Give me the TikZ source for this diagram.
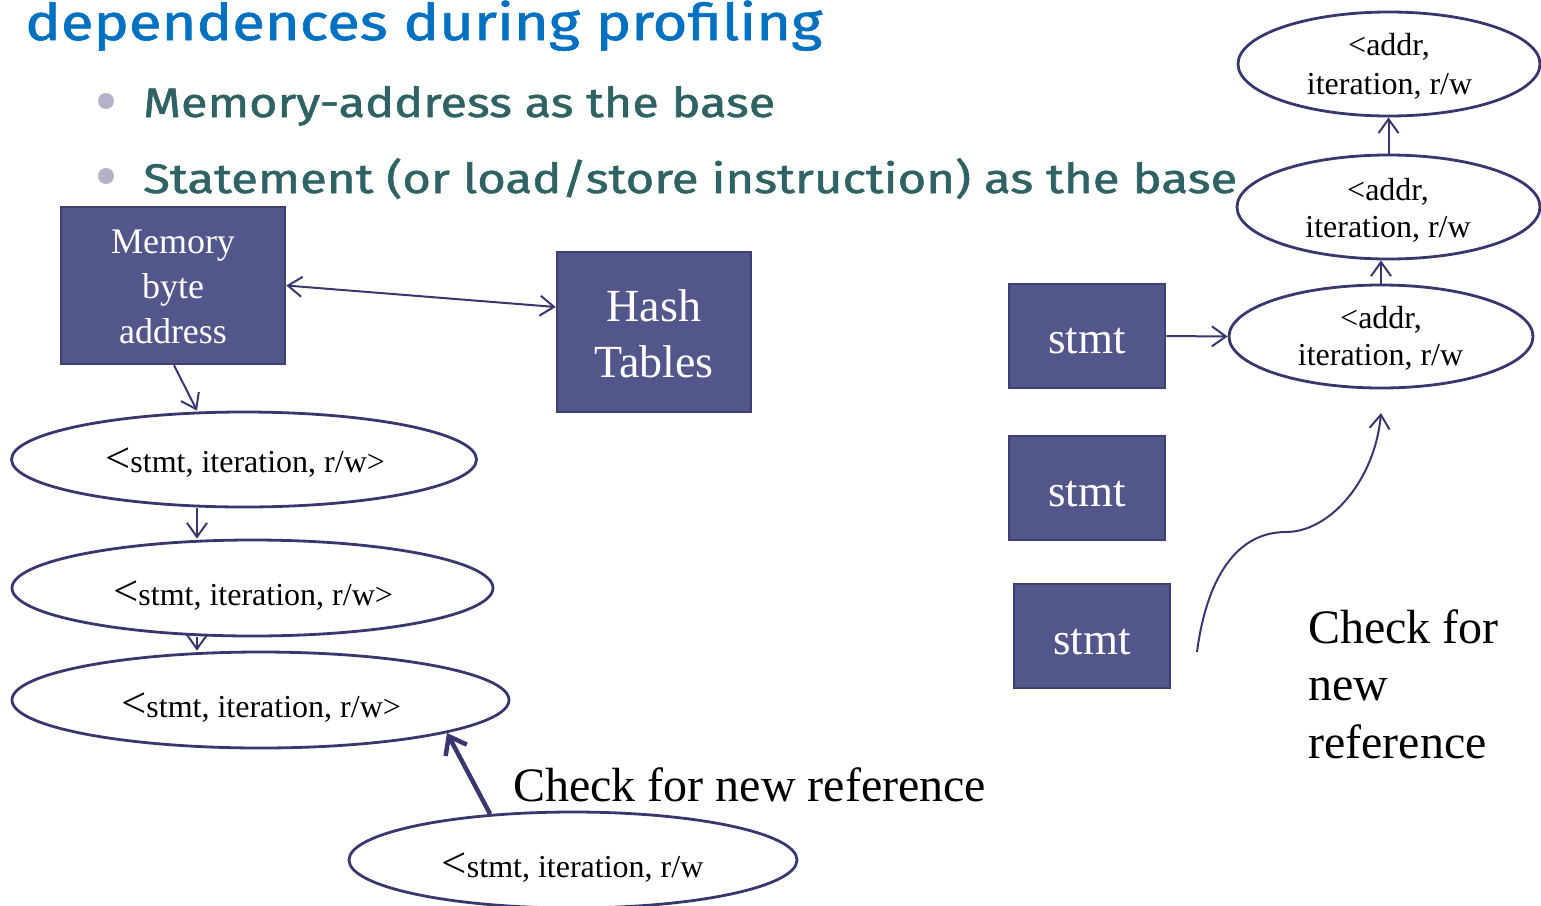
\documentclass[tikz,border=0pt]{standalone}
\usepackage{fontspec}
\usepackage{graphicx}
\setmainfont{Liberation Serif}
\newfontfamily\hand{Fira Sans}[FakeBold=1.2]
\usetikzlibrary{arrows.meta,shapes.geometric}
\definecolor{titleblue}{RGB}{0,112,192}
\definecolor{bultext}{RGB}{47,99,99}
\definecolor{bulgray}{RGB}{180,178,200}
\definecolor{boxfill}{RGB}{83,86,138}
\definecolor{boxline}{RGB}{62,64,112}
\definecolor{navyln}{RGB}{56,56,110}
\newcommand{\biglt}{\scalebox{1.4}[1.35]{<}}
\begin{document}
\begin{tikzpicture}[x=1pt,y=-1pt,
  boxn/.style={draw=boxline, line width=2.5pt, fill=boxfill, inner sep=0pt},
  elln/.style={ellipse, draw=navyln, line width=2.8pt, inner sep=0pt},
  arr/.style={draw=navyln, line width=2pt, -{Straight Barb[length=14pt,width=20pt]}},
  arrthick/.style={draw=navyln, line width=4.5pt, -{Straight Barb[length=16pt,width=24pt]}},
  wtxt/.style={text=white, inner sep=0pt, anchor=base},
  btxt/.style={text=black, inner sep=0pt, anchor=base},
  ltxt/.style={text=black, inner sep=0pt, anchor=base west},
  bul/.style={circle, fill=bulgray, inner sep=0pt, minimum size=16pt}
]
\useasboundingbox (0,0) rectangle (1541,905);
\clip (0,0) rectangle (1541,905);

% title and bullets
\node[anchor=base west, inner sep=0pt, text=titleblue, font=\hand\fontsize{50}{50}\selectfont] (title) at (25,40)
  {\resizebox{797pt}{38pt}{\vphantom{d}\smash{dependences during profiling}}};
\node[bul] (b1) at (106,101) {};
\node[bul] (b2) at (106,176) {};
\node[anchor=base west, inner sep=0pt, text=bultext, font=\hand\fontsize{42}{42}\selectfont] (l1) at (143,117)
  {\resizebox{632pt}{31pt}{\vphantom{d}\smash{Memory-address as the base}}};
\node[anchor=base west, inner sep=0pt, text=bultext, font=\hand\fontsize{42}{42}\selectfont] (l2) at (143,193)
  {\resizebox{1094pt}{31pt}{\vphantom{d}\smash{Statement (or load/store instruction) as the base}}};

% left diagram
\node[boxn, minimum width=224pt, minimum height=157pt] (mem) at (173,285.5) {};
\node[wtxt, font=\fontsize{36}{36}\selectfont] (m1) at (173,253) {Memory};
\node[wtxt, font=\fontsize{36}{36}\selectfont] (m2) at (173,298) {byte};
\node[wtxt, font=\fontsize{36}{36}\selectfont] (m3) at (173,343) {address};

\node[boxn, minimum width=194pt, minimum height=160pt] (hash) at (654,332) {};
\node[wtxt, font=\fontsize{46}{46}\selectfont] (h1) at (654,321) {Hash};
\node[wtxt, font=\fontsize{46}{46}\selectfont] (h2) at (654,377) {Tables};

\node[elln, minimum width=465pt, minimum height=95pt] (e1) at (244,459.5) {};
\node[btxt, font=\fontsize{32}{32}\selectfont] (t1) at (245,472) {\biglt stmt, iteration, r/w>};
\node[elln, minimum width=481pt, minimum height=96pt] (e2) at (252.5,588) {};
\node[btxt, font=\fontsize{32}{32}\selectfont] (t2) at (253,605) {\biglt stmt, iteration, r/w>};
\node[elln, minimum width=497pt, minimum height=96pt] (e3) at (260.5,700) {};
\node[btxt, font=\fontsize{32}{32}\selectfont] (t3) at (261,717) {\biglt stmt, iteration, r/w>};
\node[elln, minimum width=448pt, minimum height=96pt] (e4) at (573,860) {};
\node[btxt, font=\fontsize{32}{32}\selectfont] (t4) at (572.5,877) {\biglt stmt, iteration, r/w};

\node[ltxt, font=\fontsize{48}{48}\selectfont] (chk1) at (513,801) {Check for new reference};

\draw[draw=navyln, line width=2pt, {Straight Barb[length=14pt,width=20pt]}-{Straight Barb[length=14pt,width=20pt]}]
  (mem.east) -- ([yshift=25pt]hash.west);
\draw[arr] ([xshift=1pt]mem.south) -- ([xshift=-47pt]e1.north);
\draw[arr] ([xshift=-47pt]e1.south) -- ([xshift=-55.5pt]e2.north);
\draw[arr] ([xshift=-55.5pt]e2.south) -- ([xshift=-63.5pt]e3.north);
\draw[arrthick] (e4.151) -- (e3.-10);

% right diagram
\node[boxn, minimum width=156pt, minimum height=104pt] (s1) at (1087,336) {};
\node[wtxt, font=\fontsize{45}{45}\selectfont] (st1) at (1087,353) {stmt};
\node[boxn, minimum width=156pt, minimum height=104pt] (s2) at (1087,488) {};
\node[wtxt, font=\fontsize{45}{45}\selectfont] (st2) at (1087,506) {stmt};
\node[boxn, minimum width=156pt, minimum height=104pt] (s3) at (1092,636) {};
\node[wtxt, font=\fontsize{45}{45}\selectfont] (st3) at (1092,654) {stmt};

\node[elln, minimum width=302pt, minimum height=104pt] (a1) at (1389,64) {};
\node[btxt, font=\fontsize{32}{32}\selectfont] (a1x) at (1389,55) {<addr,};
\node[btxt, font=\fontsize{32}{32}\selectfont] (a1y) at (1389.5,94) {iteration, r/w};
\node[elln, minimum width=303pt, minimum height=104pt] (a2) at (1388.5,207) {};
\node[btxt, font=\fontsize{32}{32}\selectfont] (a2x) at (1388,200) {<addr,};
\node[btxt, font=\fontsize{32}{32}\selectfont] (a2y) at (1388,237) {iteration, r/w};
\node[elln, minimum width=304pt, minimum height=103pt] (a3) at (1381,336.5) {};
\node[btxt, font=\fontsize{32}{32}\selectfont] (a3x) at (1381,328) {<addr,};
\node[btxt, font=\fontsize{32}{32}\selectfont] (a3y) at (1380.5,365) {iteration, r/w};

\draw[arr] (a3.north) -- (a3.north |- a2.south);
\draw[arr] (a2.north) -- (a2.north |- a1.south);
\draw[arr] (s1.east) -- (a3.west);

\coordinate (c0) at (1197,652);
\coordinate (c1) at (1381,413);
\draw[arr] (c0) .. controls (1205,590) and (1230,532) .. (1286,532)
  .. controls (1330,532) and (1375,480) .. (c1);

\node[ltxt, font=\fontsize{48}{48}\selectfont] (r1) at (1308,643) {Check for};
\node[ltxt, font=\fontsize{48}{48}\selectfont] (r2) at (1308,700) {new};
\node[ltxt, font=\fontsize{48}{48}\selectfont] (r3) at (1308,758) {reference};
\end{tikzpicture}
\end{document}
